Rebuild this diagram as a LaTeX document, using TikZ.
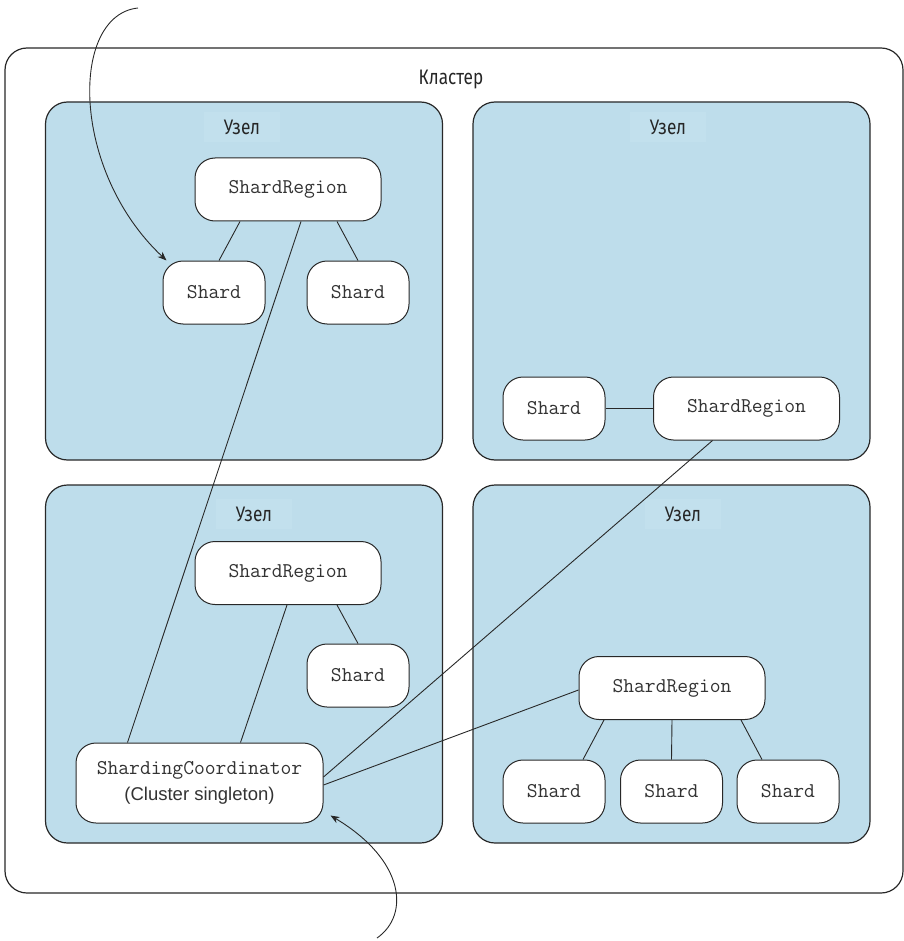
\documentclass[tikz,border=0pt]{standalone}
\usepackage{fontspec}
\setmainfont{Liberation Sans}
\newfontfamily\condfont[FakeStretch=0.82]{Fira Sans}
\usetikzlibrary{arrows.meta}
\definecolor{nodeblue}{RGB}{190,221,235}
\definecolor{labelblue}{RGB}{194,224,237}
\definecolor{edgegray}{RGB}{40,40,40}

\tikzset{
  cluster/.style={draw=edgegray, line width=1.2pt, rounded corners=22pt,
    minimum width=898pt, minimum height=845pt, inner sep=0pt},
  host/.style={draw=edgegray, line width=1.2pt, fill=nodeblue, rounded corners=22pt,
    minimum width=397pt, minimum height=358pt, inner sep=0pt},
  hostlabel/.style={fill=labelblue, minimum width=76pt, minimum height=30pt, inner sep=0pt,
    font=\condfont\fontsize{21}{24}\selectfont, text=black!85},
  clusterlabel/.style={inner sep=0pt, font=\condfont\fontsize{21}{24}\selectfont, text=black!85},
  actor/.style={draw=edgegray, line width=1pt, fill=white, rounded corners=20pt,
    minimum height=63pt, inner sep=0pt, font=\ttfamily\fontsize{21}{24}\selectfont, text=black!80},
  shardbox/.style={actor, minimum width=102pt},
  regionbox/.style={actor, minimum width=186pt},
  link/.style={draw=edgegray, line width=0.9pt},
  pointer/.style={link, -{Stealth[length=9pt,width=7pt]}},
}

\begin{document}
\begin{tikzpicture}[x=1pt, y=-1pt]
  \useasboundingbox (0,0) rectangle (903,941);

  % cluster frame
  \node[cluster] (cl) at (454,470.5) {};
  \node[clusterlabel] (cllabel) at (451,80) {Кластер};

  % four hosts
  \node[host] (h1) at (244,281) {};
  \node[host] (h2) at (671.5,281) {};
  \node[host] (h3) at (244,664) {};
  \node[host] (h4) at (671.5,664) {};
  \node[hostlabel] (l1) at (242,127) {Узел};
  \node[hostlabel] (l2) at (668,127) {Узел};
  \node[hostlabel] (l3) at (254,514) {Узел};
  \node[hostlabel] (l4) at (683,514) {Узел};

  % host 1
  \node[regionbox] (sr1) at (288,189.5) {ShardRegion};
  \node[shardbox] (sh1) at (214,292.5) {Shard};
  \node[shardbox] (sh2) at (358,292.5) {Shard};

  % host 2
  \node[shardbox] (sh3) at (554,408.5) {Shard};
  \node[regionbox] (sr2) at (746.5,408.5) {ShardRegion};

  % host 3
  \node[regionbox] (sr3) at (288,573) {ShardRegion};
  \node[shardbox] (sh4) at (358,675.5) {Shard};
  \node[actor, minimum width=247pt, minimum height=80pt, align=center,
        font=\fontsize{18.5}{26}\selectfont] (coord) at (199.5,783)
    {{\ttfamily\fontsize{21}{26}\selectfont ShardingCoordinator}\\(Cluster singleton)};

  % host 4
  \node[regionbox] (sr4) at (672,688) {ShardRegion};
  \node[shardbox] (sh5) at (554,791.5) {Shard};
  \node[shardbox] (sh6) at (671.5,791.5) {Shard};
  \node[shardbox] (sh7) at (788,791.5) {Shard};

  % region to shard links
  \draw[link] ([xshift=-48pt]sr1.south) -- ([xshift=5pt]sh1.north);
  \draw[link] ([xshift=49pt]sr1.south) -- (sh2.north);
  \draw[link] (sh3.east) -- (sr2.west);
  \draw[link] ([xshift=49pt]sr3.south) -- (sh4.north);
  \draw[link] ([xshift=-68pt]sr4.south) -- ([xshift=29pt]sh5.north);
  \draw[link] (sr4.south) -- (sh6.north);
  \draw[link] ([xshift=69pt]sr4.south) -- ([xshift=-26pt]sh7.north);

  % region to coordinator links
  \draw[link] ([xshift=13pt]sr1.south) -- ([xshift=-72pt]coord.north);
  \draw[link] ([xshift=-1pt]sr3.south) -- ([xshift=41pt]coord.north);
  \draw[link] ([xshift=-34pt]sr2.south) -- ([yshift=6pt]coord.east);
  \draw[link] ([yshift=-2pt]sr4.west) -- ([yshift=-2pt]coord.east);

  % incoming pointers
  \coordinate (inTop) at (138,8);
  \coordinate (inBot) at (377,938);
  \draw[pointer] (inTop) .. controls (70,15) and (70,170) .. ([xshift=4pt]sh1.north west);
  \draw[pointer] (inBot) .. controls (410,915) and (405,860) .. ([shift={(7pt,8pt)}]coord.south east);
\end{tikzpicture}
\end{document}
